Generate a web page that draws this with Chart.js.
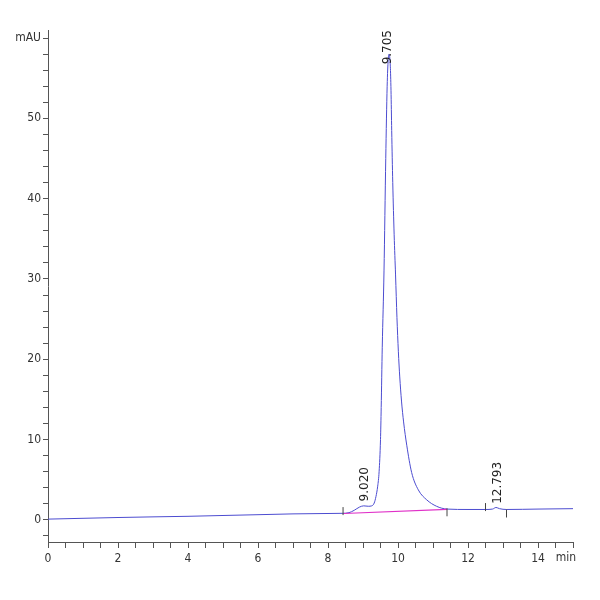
<!DOCTYPE html>
<html>
<head>
<meta charset="utf-8">
<script src="https://cdn.jsdelivr.net/npm/chart.js@4.4.1/dist/chart.umd.min.js"></script>
<style>
  html, body { margin: 0; padding: 0; background: #fff; }
  #wrap { width: 600px; height: 600px; }
</style>
</head>
<body>
<div id="wrap"><canvas id="chromChart" width="600" height="600"></canvas></div>
<script>
// Retention time (min) and absorbance (mAU)
const traceTimes = [0, 1, 2, 3, 4, 5, 6, 7, 8, 8.4, 8.6, 8.75, 8.9, 9.02, 9.15, 9.25, 9.32, 9.37, 9.42, 9.46, 9.5, 9.52, 9.55, 9.6, 9.65, 9.69, 9.72, 9.745, 9.78, 9.8, 9.82, 9.85, 9.89, 9.93, 9.97, 10.01, 10.05, 10.1, 10.16, 10.25, 10.39, 10.58, 10.82, 11.1, 11.4, 12.0, 12.5, 12.7, 12.8, 12.9, 13.1, 14.0, 15.0];
const traceValues = [0.1, 0.2, 0.3, 0.38, 0.45, 0.55, 0.65, 0.75, 0.8, 0.82, 0.9, 1.2, 1.6, 1.75, 1.7, 1.75, 2.1, 2.9, 4.2, 6, 10, 14, 21.5, 31, 45, 54, 57.3, 58.0, 56.5, 53.5, 48.5, 42, 35.5, 30.5, 25.2, 21, 17.8, 14.8, 12.2, 9.3, 5.9, 3.74, 2.5, 1.7, 1.35, 1.3, 1.3, 1.35, 1.55, 1.4, 1.3, 1.35, 1.4];

// integration baseline under the 9.020 / 9.705 peaks
const baseTimes = [8.45, 11.4];
const baseValues = [0.8, 1.3];

// peak start / end marks on the trace
const markTimes = [8.43, 11.4, 12.5, 13.1];
const markValues = [1.1, 0.95, 1.6, 0.8];

// labelled peaks
const peakLabels = ['9.020', '9.705', '12.793'];
const peakTimes = [9.06, 9.72, 12.86];
const peakValues = [1.8, 58.0, 1.5];

// tick labels
const xLabelValues = [0, 2, 4, 6, 8, 10, 12, 14];
const yLabelValues = [0, 10, 20, 30, 40, 50];
const xUnit = 'min';
const yUnit = 'mAU';

const tickFont = { family: '"Liberation Sans Narrow", "DejaVu Sans Condensed", sans-serif', size: 12 };
const axisColor = '#555';

// rotated retention time labels above each peak, plus the time unit
const peakLabelPlugin = {
  id: 'peakLabels',
  afterDatasetsDraw(chart) {
    const { ctx, chartArea, scales } = chart;
    ctx.save();
    ctx.font = '12px "DejaVu Sans", sans-serif';
    ctx.fillStyle = '#222';
    ctx.textAlign = 'left';
    ctx.textBaseline = 'middle';
    peakLabels.forEach((txt, i) => {
      const px = scales.x.getPixelForValue(peakTimes[i]);
      let py = scales.y.getPixelForValue(peakValues[i]) - 4;
      const w = ctx.measureText(txt).width;
      if (py - w < chartArea.top) py = chartArea.top + w;
      ctx.save();
      ctx.translate(px, py);
      ctx.rotate(-Math.PI / 2);
      ctx.fillText(txt, 0, 0);
      ctx.restore();
    });

    // "min" sits just left of the axis end
    ctx.font = tickFont.size + 'px ' + tickFont.family;
    ctx.fillStyle = '#333';
    ctx.textAlign = 'right';
    ctx.textBaseline = 'top';
    ctx.fillText(xUnit, chartArea.right + 3, scales.x.top + 10);
    ctx.restore();
  }
};

const ctx = document.getElementById('chromChart').getContext('2d');
const chromChart = new Chart(ctx, {
  type: 'line',
  data: {
    datasets: [{
      label: 'trace',
      data: traceTimes.map((t, i) => ({ x: t, y: traceValues[i] })),
      borderColor: '#4c4cd0',
      borderWidth: 1,
      pointRadius: 0,
      cubicInterpolationMode: 'monotone',
      order: 3
    }, {
      label: 'baseline',
      data: baseTimes.map((t, i) => ({ x: t, y: baseValues[i] })),
      borderColor: '#e030c8',
      borderWidth: 1.2,
      pointRadius: 0,
      order: 2
    }, {
      type: 'scatter',
      label: 'marks',
      data: markTimes.map((t, i) => ({ x: t, y: markValues[i] })),
      pointStyle: 'line',
      rotation: 90,
      radius: 4,
      borderColor: '#444',
      borderWidth: 1,
      order: 1
    }]
  },
  options: {
    responsive: false,
    animation: false,
    layout: { padding: { top: 30, right: 27, left: 0, bottom: 0 } },
    plugins: {
      legend: { display: false },
      tooltip: { enabled: false }
    },
    scales: {
      x: {
        type: 'linear',
        min: 0,
        max: 15,
        afterFit(scale) { scale.height = 58; },
        border: { color: axisColor },
        grid: { drawOnChartArea: false, tickLength: 6, color: axisColor },
        ticks: {
          stepSize: 0.5,
          autoSkip: false,
          maxRotation: 0,
          padding: 4,
          color: '#333',
          font: tickFont,
          callback(v) {
            return xLabelValues.includes(v) ? String(v) : '';
          }
        }
      },
      y: {
        min: -2.75,
        max: 61,
        afterFit(scale) { scale.width = 48; },
        border: { color: axisColor },
        grid: { drawOnChartArea: false, tickLength: 5, color: axisColor },
        ticks: {
          stepSize: 2,
          includeBounds: false,
          autoSkip: false,
          padding: 2,
          color: '#333',
          font: tickFont,
          callback(v) {
            if (v === 60) return yUnit;
            return yLabelValues.includes(v) ? String(v) : '';
          }
        }
      }
    }
  },
  plugins: [peakLabelPlugin]
});
</script>
</body>
</html>
